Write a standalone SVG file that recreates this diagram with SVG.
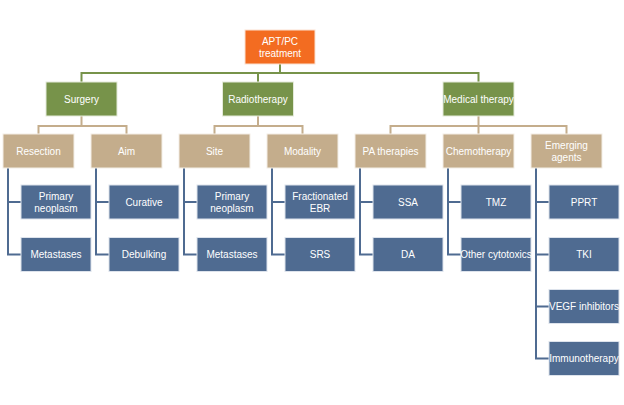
<svg xmlns="http://www.w3.org/2000/svg" width="624" height="405" viewBox="0 0 624 405">
<style>
text{font-family:"Liberation Sans",Arial,sans-serif;font-size:10px;fill:#fff;text-anchor:middle;dominant-baseline:central}
.o{fill:#F36C21;stroke:#fbe0cf;stroke-width:1}
.g{fill:#77934A;stroke:#e4ead9;stroke-width:1}
.t{fill:#C4AD8C;stroke:#f3eee6;stroke-width:1}
.b{fill:#4F6B91;stroke:#dde3ec;stroke-width:1}
.cg{fill:none;stroke:#77934A;stroke-width:2}
.ct{fill:none;stroke:#C4AD8C;stroke-width:2}
.cb{fill:none;stroke:#4F6B91;stroke-width:2}
</style>
<rect width="624" height="405" fill="#fff"/>
<g id="connectors">
<path class="cg" d="M280 64V73M81.5 82V73H478.5V82M258 73V82"/>
<path class="ct" d="M81.5 116V126M38.5 134V126H126.5V134"/>
<path class="ct" d="M258 116V126M214.5 134V126H302.5V134"/>
<path class="ct" d="M478.5 116V134M390.5 134V126H566.5V134"/>
<path class="cb" d="M8 168V254.5H21M8 202H21"/>
<path class="cb" d="M96 168V254.5H109M96 202H109"/>
<path class="cb" d="M184 168V254.5H197M184 202H197"/>
<path class="cb" d="M272 168V254.5H285M272 202H285"/>
<path class="cb" d="M360 168V254.5H373M360 202H373"/>
<path class="cb" d="M448 168V254.5H461M448 202H461"/>
<path class="cb" d="M536 168V358.5H549M536 202H549M536 254.5H549M536 306.5H549"/>
</g>
<g id="root"><rect class="o" x="245" y="30" width="70" height="34"/><text x="280" y="41">APT/PC</text><text x="280" y="53">treatment</text></g>
<g id="surgery"><rect class="g" x="46" y="82" width="71" height="34"/><text x="81.5" y="99">Surgery</text></g>
<g id="radiotherapy"><rect class="g" x="222.5" y="82" width="71" height="34"/><text x="258" y="99">Radiotherapy</text></g>
<g id="medical"><rect class="g" x="443" y="82" width="71" height="34"/><text x="478.5" y="99">Medical therapy</text></g>
<g id="resection"><rect class="t" x="3" y="134" width="71" height="34"/><text x="38.5" y="151">Resection</text></g>
<g id="aim"><rect class="t" x="91" y="134" width="71" height="34"/><text x="126.5" y="151">Aim</text></g>
<g id="site"><rect class="t" x="179" y="134" width="71" height="34"/><text x="214.5" y="151">Site</text></g>
<g id="modality"><rect class="t" x="267" y="134" width="71" height="34"/><text x="302.5" y="151">Modality</text></g>
<g id="pa"><rect class="t" x="355" y="134" width="71" height="34"/><text x="390.5" y="151">PA therapies</text></g>
<g id="chemo"><rect class="t" x="443" y="134" width="71" height="34"/><text x="478.5" y="151">Chemotherapy</text></g>
<g id="emerging"><rect class="t" x="531" y="134" width="71" height="34"/><text x="566.5" y="145">Emerging</text><text x="566.5" y="157">agents</text></g>
<g id="res-primary"><rect class="b" x="21" y="185" width="70" height="34"/><text x="56" y="196">Primary</text><text x="56" y="208">neoplasm</text></g>
<g id="res-meta"><rect class="b" x="21" y="237.5" width="70" height="34"/><text x="56" y="254.5">Metastases</text></g>
<g id="curative"><rect class="b" x="109" y="185" width="70" height="34"/><text x="144" y="202">Curative</text></g>
<g id="debulking"><rect class="b" x="109" y="237.5" width="70" height="34"/><text x="144" y="254.5">Debulking</text></g>
<g id="site-primary"><rect class="b" x="197" y="185" width="70" height="34"/><text x="232" y="196">Primary</text><text x="232" y="208">neoplasm</text></g>
<g id="site-meta"><rect class="b" x="197" y="237.5" width="70" height="34"/><text x="232" y="254.5">Metastases</text></g>
<g id="febr"><rect class="b" x="285" y="185" width="70" height="34"/><text x="320" y="196">Fractionated</text><text x="320" y="208">EBR</text></g>
<g id="srs"><rect class="b" x="285" y="237.5" width="70" height="34"/><text x="320" y="254.5">SRS</text></g>
<g id="ssa"><rect class="b" x="373" y="185" width="70" height="34"/><text x="408" y="202">SSA</text></g>
<g id="da"><rect class="b" x="373" y="237.5" width="70" height="34"/><text x="408" y="254.5">DA</text></g>
<g id="tmz"><rect class="b" x="461" y="185" width="70" height="34"/><text x="496" y="202">TMZ</text></g>
<g id="other"><rect class="b" x="461" y="237.5" width="70" height="34"/><text x="496" y="254.5">Other cytotoxics</text></g>
<g id="pprt"><rect class="b" x="549" y="185" width="70" height="34"/><text x="584" y="202">PPRT</text></g>
<g id="tki"><rect class="b" x="549" y="237.5" width="70" height="34"/><text x="584" y="254.5">TKI</text></g>
<g id="vegf"><rect class="b" x="549" y="289.5" width="70" height="34"/><text x="584" y="306.5">VEGF inhibitors</text></g>
<g id="immuno"><rect class="b" x="549" y="341.5" width="70" height="34"/><text x="584" y="358.5">Immunotherapy</text></g>
</svg>
